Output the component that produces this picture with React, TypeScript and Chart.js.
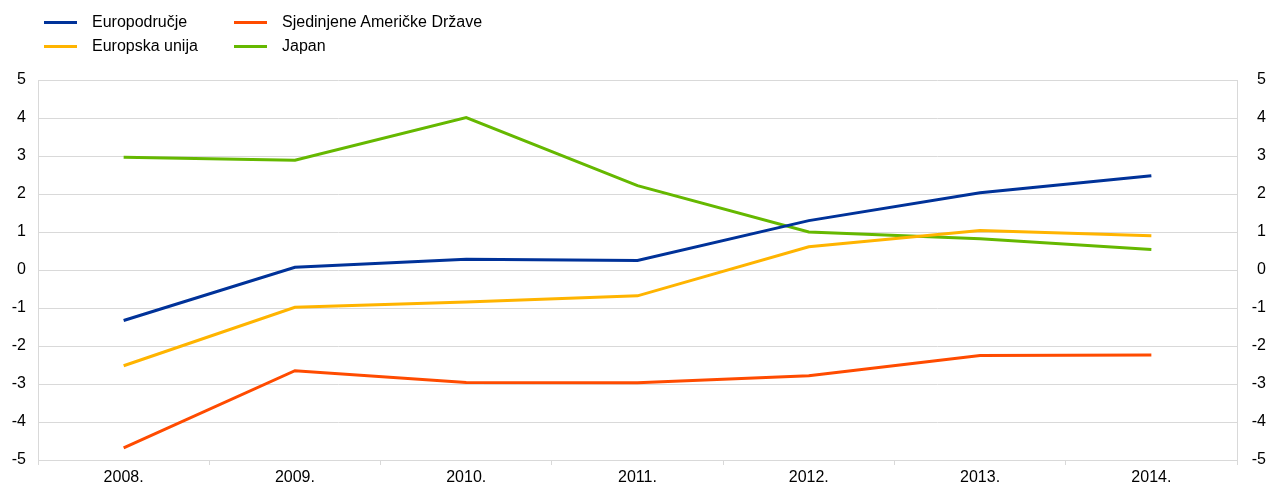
import React, { useEffect, useRef } from "react";
import { Chart, registerables } from "chart.js";

Chart.register(...registerables);

const categories = ["2008.", "2009.", "2010.", "2011.", "2012.", "2013.", "2014."];
const euroArea = [-1.33, 0.07, 0.28, 0.25, 1.3, 2.03, 2.48];
const europeanUnion = [-2.52, -0.98, -0.84, -0.68, 0.61, 1.04, 0.9];
const unitedStates = [-4.68, -2.65, -2.96, -2.97, -2.78, -2.25, -2.24];
const japan = [2.97, 2.89, 4.01, 2.22, 1.0, 0.82, 0.54];
const yTicks = [-5, -4, -3, -2, -1, 0, 1, 2, 3, 4, 5];

const seriesNames = ["Europodručje", "Europska unija", "Sjedinjene Američke Države", "Japan"];
const seriesColors = ["#003299", "#FFB400", "#FF4B00", "#65B800"];

const FONT = "'Liberation Sans', Arial, sans-serif";

export default function App() {
  const ref = useRef<HTMLCanvasElement | null>(null);

  useEffect(() => {
    document.body.style.margin = "0";
    const values = [euroArea, europeanUnion, unitedStates, japan];
    const chart = new Chart(ref.current as HTMLCanvasElement, {
      type: "line",
      data: {
        labels: categories,
        datasets: values.map((v, i) => ({
          label: seriesNames[i],
          data: v,
          borderColor: seriesColors[i],
          backgroundColor: seriesColors[i],
          borderWidth: 3,
          pointRadius: 0,
          tension: 0,
          yAxisID: "y",
        })),
      },
      options: {
        animation: false,
        responsive: true,
        maintainAspectRatio: false,
        layout: { padding: { top: 80, left: 0, right: 0, bottom: 0 } },
        plugins: { legend: { display: false }, tooltip: { enabled: false } },
        font: { family: FONT, size: 16 },
        scales: {
          x: {
            offset: true,
            grid: {
              offset: true,
              drawOnChartArea: false,
              drawTicks: true,
              tickLength: 5,
              color: "#d9d9d9",
            },
            border: { color: "#d9d9d9" },
            ticks: { color: "#000", font: { family: FONT, size: 16 }, padding: 3, maxRotation: 0 },
            afterFit: (s: any) => { s.height = 30; },
          },
          y: {
            position: "left",
            min: -5,
            max: 5,
            afterBuildTicks: (s: any) => { s.ticks = yTicks.map((v) => ({ value: v })); },
            grid: { color: "#d9d9d9", drawTicks: false },
            border: { color: "#d9d9d9" },
            ticks: { color: "#000", font: { family: FONT, size: 16 }, padding: 12 },
            afterFit: (s: any) => { s.width = 38; },
          },
          y2: {
            position: "right",
            min: -5,
            max: 5,
            afterBuildTicks: (s: any) => { s.ticks = yTicks.map((v) => ({ value: v })); },
            grid: { drawOnChartArea: false, drawTicks: false, color: "#d9d9d9" },
            border: { color: "#d9d9d9" },
            ticks: { color: "#000", font: { family: FONT, size: 16 }, padding: 12, crossAlign: "far" },
            afterFit: (s: any) => { s.width = 29; },
          },
        },
      } as any,
    });
    return () => chart.destroy();
  }, []);

  const legendItem = (i: number, left: number, top: number) => (
    <div
      key={i}
      style={{ position: "absolute", left, top, display: "flex", alignItems: "center", height: 20 }}
    >
      <div style={{ width: 33, height: 3, background: seriesColors[i], marginRight: 15 }} />
      <span style={{ fontFamily: FONT, fontSize: 16, color: "#000", whiteSpace: "nowrap" }}>{seriesNames[i]}</span>
    </div>
  );

  return (
    <div style={{ position: "relative", width: 1266, height: 490 }}>
      <canvas ref={ref} />
      {legendItem(0, 44, 12)}
      {legendItem(1, 44, 36)}
      {legendItem(2, 234, 12)}
      {legendItem(3, 234, 36)}
    </div>
  );
}
